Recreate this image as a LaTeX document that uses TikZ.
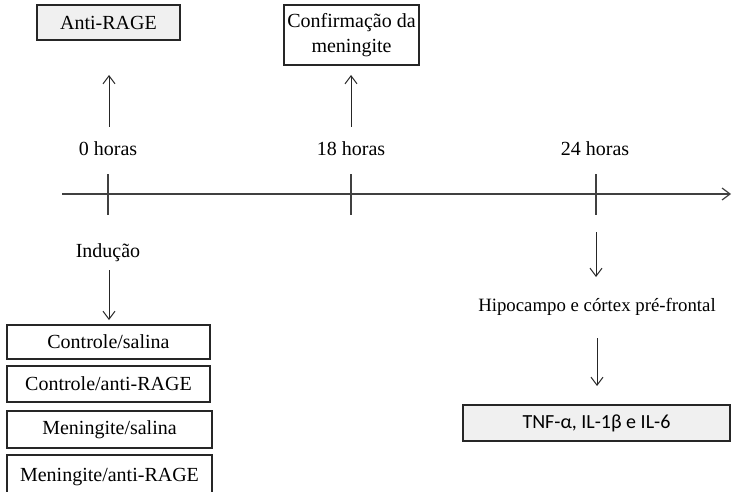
\documentclass[tikz,border=0pt]{standalone}
\usepackage{fontspec}
\setmainfont{Liberation Serif}
\newfontfamily\calfont{Carlito}
\usetikzlibrary{arrows.meta}

\tikzset{
  every node/.style={font=\fontsize{10}{12.5}\selectfont},
  box/.style={draw=black!85, line width=0.6pt, inner sep=0pt, align=center},
  greybox/.style={box, fill=black!6},
  arr/.style={-{Straight Barb[length=4pt,width=6pt]}, line width=0.5pt, draw=black!85},
  axis/.style={line width=0.6pt, draw=black!75}
}

\begin{document}
\begin{tikzpicture}[x=0.5pt,y=-0.5pt]
  \useasboundingbox (0,0) rectangle (733,492);

  % boxes on top
  \node[greybox, minimum width=71.5pt, minimum height=17.5pt] (anti) at (108.5,22.5) {Anti-RAGE};
  \node[box, minimum width=67.5pt, minimum height=30pt] (conf) at (351.5,35) {Confirmação da\\meningite};

  % time labels
  \node (h0) at (108,149) {0 horas};
  \node (h18) at (351,149) {18 horas};
  \node (h24) at (595,149) {24 horas};

  % time axis
  \coordinate (ax0) at (62,194);
  \coordinate (ax1) at (731,194);
  \draw[axis, -{Straight Barb[length=4pt,width=6pt]}] (ax0) -- (ax1);
  \foreach \t/\n in {108/t0, 351/t18, 596/t24} {
    \coordinate (\n-top) at (\t,174);
    \coordinate (\n-bot) at (\t,215);
    \draw[axis] (\n-top) -- (\n-bot);
  }

  % arrows up
  \coordinate (u0a) at (109,127);  \coordinate (u0b) at (109,75);
  \coordinate (u18a) at (351,127); \coordinate (u18b) at (351,75);
  \draw[arr] (u0a) -- (u0b);
  \draw[arr] (u18a) -- (u18b);

  % left column: groups
  \node (ind) at (108,253) {Indução};
  \coordinate (d0a) at (109,270); \coordinate (d0b) at (109,320);
  \draw[arr] (d0a) -- (d0b);

  \node[box, minimum width=101.5pt, minimum height=17pt] (g1) at (108.5,342) {Controle/salina};
  \node[box, minimum width=101.5pt, minimum height=18pt] (g2) at (108.5,384) {Controle/anti-RAGE};
  \node[box, minimum width=102.5pt, minimum height=18.5pt] (g3) at (109.5,429.5) {Meningite/salina};
  \node[box, minimum width=102.5pt, minimum height=22pt] (g4) at (109.5,477) {Meningite/anti-RAGE};

  % right column: analysis
  \coordinate (d24a) at (596,232); \coordinate (d24b) at (596,277);
  \draw[arr] (d24a) -- (d24b);
  \node[font=\fontsize{9.4}{11}\selectfont] (tis) at (597,307) {Hipocampo e córtex pré-frontal};
  \coordinate (dta) at (597,338); \coordinate (dtb) at (597,386);
  \draw[arr] (dta) -- (dtb);
  \node[greybox, minimum width=133.5pt, minimum height=18pt, font=\calfont\fontsize{10}{12}\selectfont] (cyt) at (596.5,423) {TNF-α, IL-1β e IL-6};
\end{tikzpicture}
\end{document}
